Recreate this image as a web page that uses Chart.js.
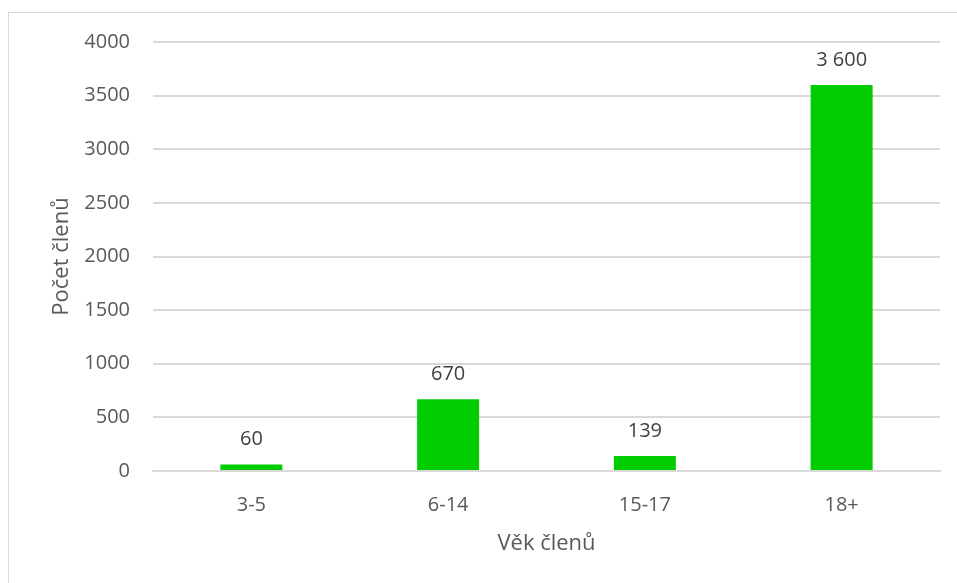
<!DOCTYPE html>
<html>
<head>
<meta charset="utf-8">
<script src="https://cdn.jsdelivr.net/npm/chart.js@4.4.0/dist/chart.umd.min.js"></script>
<style>
  html, body { margin: 0; padding: 0; background: #fff; }
  #frame { position: absolute; left: 8px; top: 12px; width: 980px; height: 600px; border: 1px solid #d9d9d9; box-sizing: border-box; }
  #wrap { position: absolute; left: 0; top: 0; width: 957px; height: 583px; }
</style>
</head>
<body>
<div id="frame"></div>
<div id="wrap"><canvas id="graf" width="957" height="583"></canvas></div>
<script>
// data
var kategorie = ['3-5', '6-14', '15-17', '18+'];
var pocty = [60, 670, 139, 3600];
var popisky = ['60', '670', '139', '3 600'];

var pismo = '"Open Sans", "DejaVu Sans", sans-serif';

// popisky nad sloupci
var popiskyPlugin = {
  id: 'popiskyNad',
  afterDatasetsDraw: function(chart) {
    var ctx = chart.ctx;
    var meta = chart.getDatasetMeta(0);
    ctx.save();
    ctx.font = '20px ' + pismo;
    ctx.fillStyle = '#404040';
    ctx.textAlign = 'center';
    ctx.textBaseline = 'middle';
    meta.data.forEach(function(bar, i) {
      ctx.fillText(popisky[i], bar.x, bar.y - 25);
    });
    ctx.restore();
  }
};

var ctx = document.getElementById('graf').getContext('2d');
var graf = new Chart(ctx, {
  type: 'bar',
  data: {
    labels: kategorie,
    datasets: [{
      data: pocty,
      backgroundColor: '#00cc00',
      borderWidth: 0,
      barPercentage: 0.315,
      categoryPercentage: 1
    }]
  },
  options: {
    responsive: false,
    animation: false,
    layout: { padding: { left: 0, right: 17, top: 42, bottom: 0 } },
    plugins: { legend: { display: false }, tooltip: { enabled: false } },
    scales: {
      x: {
        grid: { display: false },
        border: { color: '#d9d9d9', width: 2 },
        ticks: { color: '#595959', font: { family: pismo, size: 20 }, padding: 14 },
        title: { display: true, text: 'Věk členů', color: '#595959', font: { family: pismo, size: 22 }, padding: { top: 0, bottom: 26 } },
        afterFit: function(s) { s.height = 112; }
      },
      y: {
        min: 0,
        max: 4000,
        grid: { color: '#d9d9d9', lineWidth: 2, drawTicks: false },
        border: { display: false },
        ticks: {
          stepSize: 500, color: '#595959', font: { family: pismo, size: 20 }, padding: 23,
          callback: function(v) { return String(v); }
        },
        title: { display: true, text: 'Počet členů', color: '#595959', font: { family: pismo, size: 22 }, padding: { top: 49, bottom: 0 } },
        afterFit: function(s) { s.width = 153; }
      }
    }
  },
  plugins: [popiskyPlugin]
});
</script>
</body>
</html>
